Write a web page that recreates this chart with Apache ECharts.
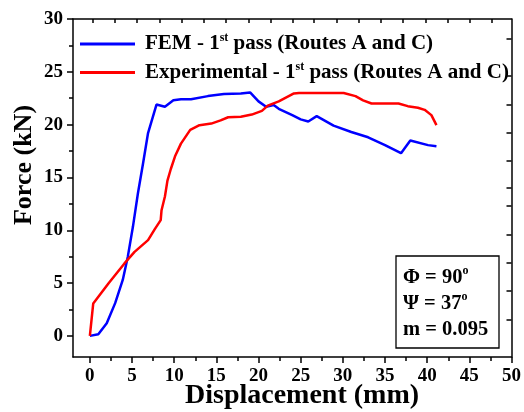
<!DOCTYPE html>
<html>
<head>
<meta charset="utf-8">
<script src="https://cdn.jsdelivr.net/npm/echarts@6/dist/echarts.min.js"></script>
<style>html,body{margin:0;padding:0;background:#fff;}#c{width:524px;height:412px;}</style>
</head>
<body>
<div id="c"></div>
<script>
// ---- data ----
const femX = [0, 1, 2, 3, 3.9, 4.5, 5.1, 5.7, 6.3, 6.9, 7.9, 8.9, 9.9, 10.8, 12, 14, 15.9, 17.9, 19, 20, 20.9, 21.8, 22.4, 24, 25, 25.9, 26.9, 28.9, 31, 33, 35, 36.9, 38, 40.1, 41.1];
const femY = [0, 0.15, 1.2, 3.1, 5.3, 7.5, 10.3, 13.5, 16.3, 19.2, 21.9, 21.7, 22.3, 22.4, 22.4, 22.7, 22.9, 22.95, 23.05, 22.2, 21.7, 21.85, 21.5, 20.9, 20.5, 20.3, 20.8, 19.9, 19.3, 18.8, 18.06, 17.3, 18.5, 18.06, 17.96];
const expX = [0, 0.4, 2.2, 4.1, 5.3, 6.9, 7.7, 8.4, 8.5, 8.9, 9.2, 9.6, 10.1, 10.8, 11.9, 13, 14.4, 15.5, 16.4, 17.9, 19.2, 20.4, 21.1, 22.4, 24.2, 24.8, 30.1, 31.5, 32.4, 33.4, 36.6, 37.7, 38.9, 39.7, 40.5, 41.1];
const expY = [0, 3.07, 4.96, 6.86, 7.95, 9.06, 10.1, 10.96, 11.9, 13.2, 14.7, 15.8, 17, 18.2, 19.5, 19.95, 20.1, 20.4, 20.7, 20.75, 20.95, 21.3, 21.8, 22.2, 22.95, 23, 23, 22.7, 22.3, 22, 22, 21.75, 21.6, 21.4, 20.9, 19.95];
const seriesNames = ['FEM', 'Experimental'];
const xMajor = [0, 5, 10, 15, 20, 25, 30, 35, 40, 45, 50];
const xMinor = [2.5, 7.5, 12.5, 17.5, 22.5, 27.5, 32.5, 37.5, 42.5, 47.5];
const yMajor = [0, 5, 10, 15, 20, 25, 30];
const yMinor = [2.5, 7.5, 12.5, 17.5, 22.5, 27.5];
const topTicks = [0.4, 3.0, 5.6, 8.3, 10.9, 13.5, 16.1, 18.8, 21.4, 24.0, 26.6, 29.3, 31.9, 34.5, 37.1, 39.8, 42.4, 45.0, 47.7];
const rightTicks = [1.55, 4.23, 6.91, 9.6, 12.28, 14.0, 16.57, 19.22, 21.91, 24.59, 28.12];

const FONT = '"Liberation Serif", "Times New Roman", serif';
const chart = echarts.init(document.getElementById('c'), null, {renderer: 'canvas'});

function pairs(xs, ys) { return xs.map((x, i) => [x, ys[i]]); }

const lineStyleAxis = {color: '#000', width: 1.5};
const xRange = {min: -2, max: 50};
const yRange = {min: -2, max: 30};

const legendRich = {
  a: {fontFamily: FONT, fontWeight: 'bold', fontSize: 21, color: '#000', lineHeight: 24},
  s: {fontFamily: FONT, fontWeight: 'bold', fontSize: 12, color: '#000', lineHeight: 14, verticalAlign: 'top'}
};
const boxRich = {
  a: {fontFamily: FONT, fontWeight: 'bold', fontSize: 20.5, color: '#000', lineHeight: 26},
  s: {fontFamily: FONT, fontWeight: 'bold', fontSize: 12, color: '#000', lineHeight: 14, verticalAlign: 'top'}
};

chart.setOption({
  animation: false,
  backgroundColor: '#fff',
  grid: {left: 73, right: 10, top: 19, bottom: 55, containLabel: false},
  legend: {
    orient: 'vertical', left: 80, top: 32, padding: 0, itemGap: 6,
    itemWidth: 55, itemHeight: 3, icon: 'rect',
    data: seriesNames,
    formatter: function (name) {
      if (name === 'FEM') return '{a|FEM - 1}{s|st}{a| pass (Routes A and C)}';
      return '{a|Experimental - 1}{s|st}{a| pass (Routes A and C)}';
    },
    textStyle: {rich: legendRich, padding: [0, 0, 0, 5]}
  },
  xAxis: [
    Object.assign({type: 'value', position: 'bottom',
      axisLine: {show: true, onZero: false, lineStyle: lineStyleAxis},
      axisTick: {show: true, length: 6, inside: false, customValues: xMajor, lineStyle: {width: 1.5, color: '#000'}},
      axisLabel: {show: true, customValues: xMajor, margin: 10, fontFamily: FONT, fontWeight: 'bold', fontSize: 19, color: '#000'},
      splitLine: {show: false}}, xRange),
    Object.assign({type: 'value', position: 'bottom',
      axisLine: {show: false, onZero: false},
      axisTick: {show: true, length: 4, inside: false, customValues: xMinor, lineStyle: {width: 1.5, color: '#000'}},
      axisLabel: {show: false}, splitLine: {show: false}}, xRange),
    Object.assign({type: 'value', position: 'top',
      axisLine: {show: true, onZero: false, lineStyle: lineStyleAxis},
      axisTick: {show: true, length: 4, inside: true, customValues: topTicks, lineStyle: {width: 1.5, color: '#000'}},
      axisLabel: {show: false}, splitLine: {show: false}}, xRange)
  ],
  yAxis: [
    Object.assign({type: 'value', position: 'left',
      axisLine: {show: true, onZero: false, lineStyle: lineStyleAxis},
      axisTick: {show: true, length: 6, inside: false, customValues: yMajor, lineStyle: {width: 1.5, color: '#000'}},
      axisLabel: {show: true, customValues: yMajor, margin: 10, fontFamily: FONT, fontWeight: 'bold', fontSize: 19, color: '#000'},
      splitLine: {show: false}}, yRange),
    Object.assign({type: 'value', position: 'left',
      axisLine: {show: false, onZero: false},
      axisTick: {show: true, length: 4, inside: false, customValues: yMinor, lineStyle: {width: 1.5, color: '#000'}},
      axisLabel: {show: false}, splitLine: {show: false}}, yRange),
    Object.assign({type: 'value', position: 'right',
      axisLine: {show: true, onZero: false, lineStyle: lineStyleAxis},
      axisTick: {show: true, length: 5, inside: true, customValues: rightTicks, lineStyle: {width: 1.5, color: '#000'}},
      axisLabel: {show: false}, splitLine: {show: false}}, yRange)
  ],
  series: [
    {name: seriesNames[0], type: 'line', xAxisIndex: 0, yAxisIndex: 0, data: pairs(femX, femY),
     symbol: 'none', color: '#0000ff', lineStyle: {width: 2.5, color: '#0000ff'}},
    {name: seriesNames[1], type: 'line', xAxisIndex: 0, yAxisIndex: 0, data: pairs(expX, expY),
     symbol: 'none', color: '#ff0000', lineStyle: {width: 2.5, color: '#ff0000'}}
  ],
  graphic: [
    {type: 'text', left: 185, top: 382, style: {text: 'Displacement (mm)', font: 'bold 28px ' + FONT, fill: '#000'}},
    {type: 'text', x: 24, y: 165, rotation: Math.PI / 2,
     style: {text: 'Force (kN)', font: 'bold 26px ' + FONT, fill: '#000', align: 'center', verticalAlign: 'middle'}},
    {type: 'rect', shape: {x: 396, y: 256, width: 103, height: 92}, style: {fill: '#fff', stroke: '#000', lineWidth: 1.3}, z: 10},
    {type: 'text', x: 403, y: 265, z: 11,
     style: {text: '{a|\u03A6 = 90}{s|o}\n{a|\u03A8 = 37}{s|o}\n{a|m = 0.095}', rich: boxRich}}
  ]
});
</script>
</body>
</html>
